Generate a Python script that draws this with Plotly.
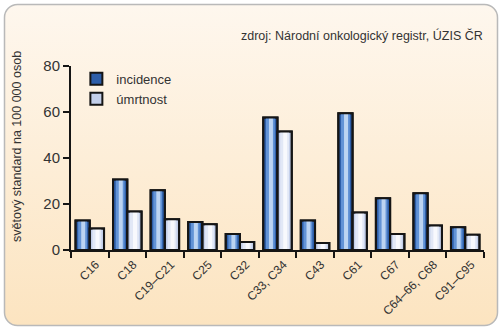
import base64
import plotly.graph_objects as go

categories = ["C16", "C18", "C19–C21", "C25", "C32", "C33, C34", "C43", "C61", "C67", "C64–66, C68", "C91–C95"]
incidence = [12.8, 30.7, 26.0, 12.2, 7.0, 57.6, 12.8, 59.5, 22.5, 24.7, 9.9]
umrtnost = [9.4, 16.7, 13.4, 11.2, 3.5, 51.5, 3.0, 16.3, 7.0, 10.6, 6.6]
y_ticks = [0, 20, 40, 60, 80]

W, H = 504, 331
ML, MR, MT, MB = 71, 20, 66, 81
PW, PH = W - ML - MR, H - MT - MB

fig = go.Figure()

BW = 0.38


def add_series(name, values, offset, colors):
    # base bar (also used for legend)
    fig.add_trace(go.Bar(x=categories, y=values, name=name, width=BW, offset=offset,
                         marker=dict(color=colors[0], line=dict(color="#151515", width=2)),
                         showlegend=True, legendgroup=name))
    # highlight layers for cylinder-like gradient
    fig.add_trace(go.Bar(x=categories, y=values, width=BW * 0.62, offset=offset + BW * 0.19,
                         marker=dict(color=colors[1], line=dict(width=0)),
                         showlegend=False, legendgroup=name, hoverinfo="skip"))
    fig.add_trace(go.Bar(x=categories, y=values, width=BW * 0.28, offset=offset + BW * 0.40,
                         marker=dict(color=colors[2], line=dict(width=0)),
                         showlegend=False, legendgroup=name, hoverinfo="skip"))
    # outline on top
    fig.add_trace(go.Bar(x=categories, y=values, width=BW, offset=offset,
                         marker=dict(color="rgba(0,0,0,0)", line=dict(color="#151515", width=2)),
                         showlegend=False, legendgroup=name, hoverinfo="skip"))


add_series("incidence", incidence, -BW, ["#2d5ea9", "#6293d6", "#bcd4f2"])
add_series("úmrtnost", umrtnost, 0.0, ["#c3cfea", "#e2e8f6", "#f8f9fd"])

svg = f'''<svg xmlns="http://www.w3.org/2000/svg" width="{W}" height="{H}" viewBox="0 0 {W} {H}">
<defs><linearGradient id="g" x1="0" y1="0" x2="0" y2="1">
<stop offset="0" stop-color="#fef7ee"/><stop offset="1" stop-color="#fce4c0"/></linearGradient></defs>
<rect x="4.5" y="4.5" width="493" height="321" rx="13" ry="13" fill="url(#g)" stroke="#b9b9b9" stroke-width="1.5"/>
</svg>'''
src = "data:image/svg+xml;base64," + base64.b64encode(svg.encode()).decode()

fig.add_layout_image(dict(source=src, xref="paper", yref="paper",
                          x=-ML / PW, y=1 + MT / PH, sizex=W / PW, sizey=H / PH,
                          xanchor="left", yanchor="top", sizing="stretch", layer="below"))

font = "Liberation Sans, Arial, Helvetica, sans-serif"

fig.add_annotation(text="zdroj: Národní onkologický registr, ÚZIS ČR", xref="paper", yref="paper",
                   x=1.002, y=1 + (MT - 35) / PH, xanchor="right", yanchor="middle", showarrow=False,
                   font=dict(family=font, size=12.5, color="#333333"))
fig.add_annotation(text="světový standard na 100 000 osob", xref="paper", yref="paper",
                   x=(17 - ML) / PW, y=(H - MB - 147) / PH, xanchor="center", yanchor="middle",
                   textangle=-90, showarrow=False, font=dict(family=font, size=12.5, color="#333333"))

fig.update_layout(
    width=W, height=H,
    margin=dict(l=ML, r=MR, t=MT, b=MB, pad=0),
    paper_bgcolor="white", plot_bgcolor="rgba(0,0,0,0)",
    barmode="overlay",
    font=dict(family=font, color="#333333"),
    legend=dict(x=0.013, y=1.012, xanchor="left", yanchor="top", bgcolor="rgba(0,0,0,0)",
                font=dict(family=font, size=13, color="#333333"), traceorder="normal",
                itemwidth=30, tracegroupgap=0),
    showlegend=True,
)
fig.update_xaxes(type="category", showline=True, linecolor="#151515", linewidth=2,
                 ticks="outside", tickson="boundaries", ticklen=6, tickwidth=1.5, tickcolor="#151515",
                 tickangle=-45, tickfont=dict(family=font, size=12, color="#333333"),
                 ticklabelshift=6, ticklabelstandoff=1,
                 showgrid=False, zeroline=False, range=[-0.5, len(categories) - 0.5])
fig.update_yaxes(range=[0, 80], tickvals=y_ticks, showline=True, linecolor="#151515", linewidth=2,
                 ticks="outside", ticklen=6, tickwidth=1.5, tickcolor="#151515",
                 tickfont=dict(family=font, size=15, color="#333333"),
                 showgrid=False, zeroline=False)

fig.write_html("out.html")
